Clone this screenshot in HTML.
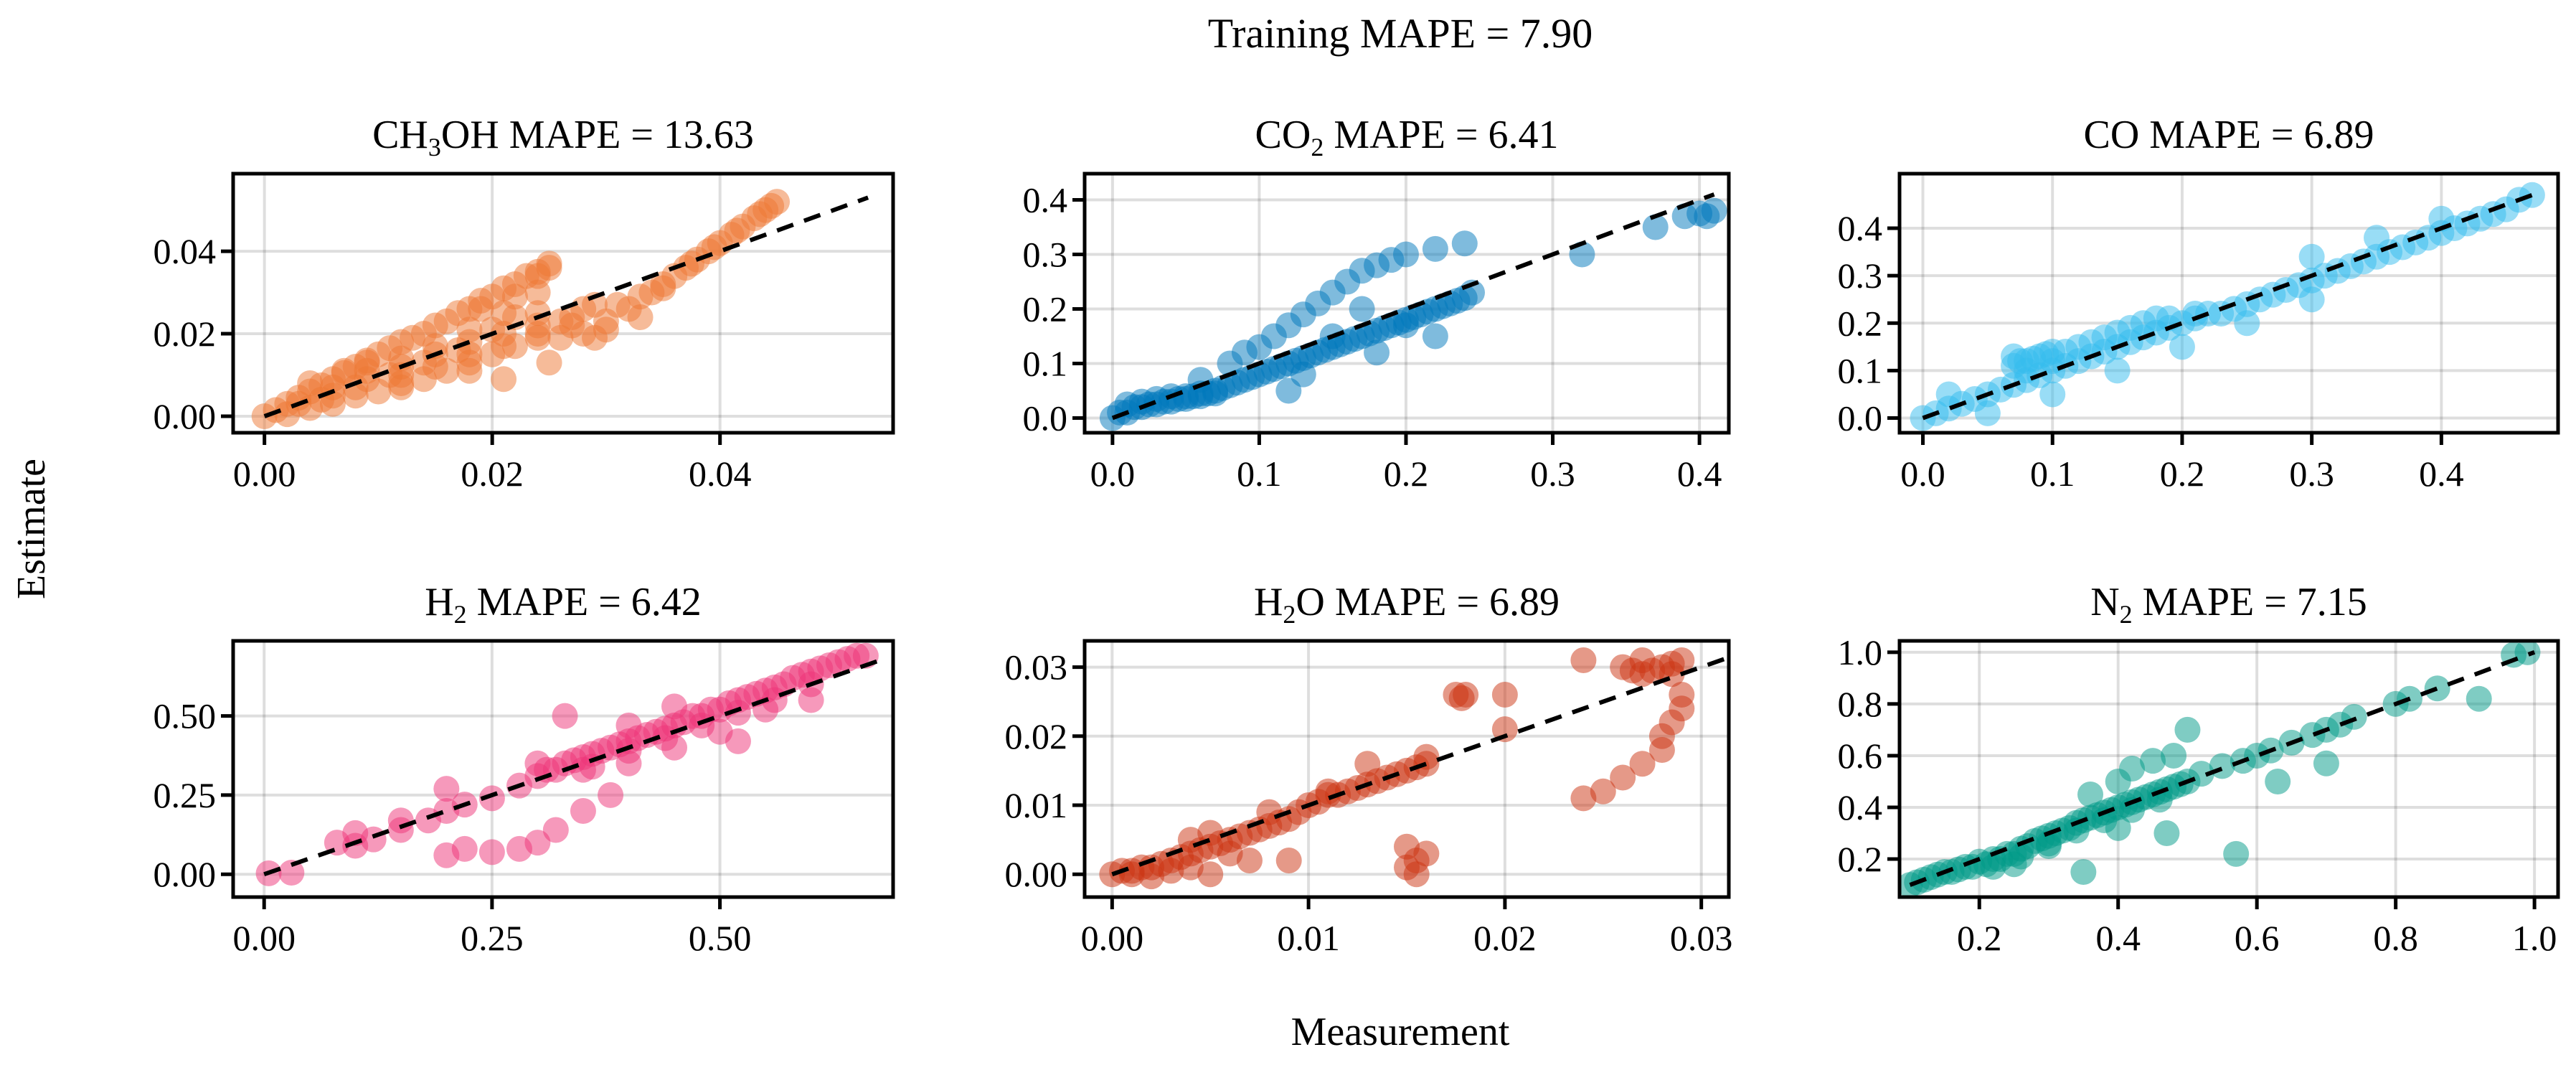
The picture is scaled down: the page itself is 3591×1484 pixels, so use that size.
<!DOCTYPE html>
<html><head><meta charset="utf-8"><style>
html,body{margin:0;padding:0;background:#fff}
svg{display:block}
text{font-family:"Liberation Serif","DejaVu Serif",serif;fill:#000}
</style></head><body>
<svg id="fig" width="3591" height="1484" viewBox="0 0 3591 1484" xmlns="http://www.w3.org/2000/svg">
<rect width="3591" height="1484" fill="#fff"/>
<text x="1952" y="66" font-size="58" text-anchor="middle">Training MAPE = 7.90</text>
<text x="0" y="0" font-size="56" text-anchor="middle" transform="translate(62,737) rotate(-90)">Estimate</text>
<text x="1952" y="1456" font-size="56" text-anchor="middle">Measurement</text>
</svg>
<script>
// ---- data ----
const ch3ohX=[0,0.001,0.002,0.003,0.004,0.005,0.006,0.007,0.008,0.009,0.010,0.011,0.012,0.013,0.014,0.015,0.016,0.017,0.018,0.019,0.020,0.021,0.022,0.023,0.024,0.025,0.002,0.004,0.006,0.008,0.010,0.012,0.014,0.016,0.018,0.020,0.022,0.024,0.026,0.028,0.030,0.029,0.005,0.008,0.011,0.014,0.017,0.020,0.022,0.024,0.026,0.028,0.031,0.033,0.035,0.036,0.037,0.038,0.039,0.040,0.041,0.042,0.043,0.044,0.045,0.021,0.018,0.012,0.025,0.004,0.007,0.009,0.033,
 0.003,0.006,0.009,0.012,0.015,0.018,0.021,0.024,0.027,0.006,0.009,0.012,0.015,0.018,0.021,0.024,0.019,0.022,0.012,0.015,0.018,0.021,0.024,0.027,0.030,0.029,0.032,0.034,0.035,0.025,0.024,0.0415,0.0435,0.0445,0.0395,0.0375];
const ch3ohY=[0,0.0015,0.003,0.0045,0.006,0.0075,0.009,0.0105,0.012,0.0135,0.015,0.0165,0.018,0.019,0.020,0.022,0.023,0.025,0.026,0.028,0.029,0.031,0.032,0.034,0.035,0.037,0.0005,0.002,0.003,0.005,0.006,0.008,0.009,0.011,0.013,0.015,0.017,0.019,0.019,0.020,0.021,0.027,0.004,0.007,0.010,0.013,0.016,0.021,0.024,0.025,0.023,0.026,0.027,0.029,0.032,0.034,0.036,0.038,0.040,0.042,0.044,0.046,0.048,0.050,0.052,0.009,0.011,0.007,0.013,0.008,0.011,0.013,0.024,
 0.003,0.005,0.009,0.012,0.015,0.018,0.020,0.022,0.024,0.007,0.011,0.014,0.017,0.021,0.025,0.030,0.026,0.029,0.010,0.012,0.015,0.017,0.020,0.022,0.023,0.019,0.026,0.030,0.031,0.036,0.034,0.045,0.049,0.051,0.041,0.037];
const co2X=[0,0.01,0.02,0.03,0.04,0.05,0.06,0.07,0.08,0.09,0.10,0.11,0.12,0.13,0.14,0.15,0.16,0.17,0.18,0.19,0.20,0.21,0.22,0.23,0.24,0.245,0.02,0.05,0.07,0.09,0.10,0.11,0.12,0.13,0.14,0.15,0.16,0.17,0.18,0.19,0.20,0.22,0.24,0.08,0.12,0.13,0.15,0.17,0.18,0.20,0.22,0.32,0.37,0.39,0.40,0.41,0.405,0.06,
 0.005,0.015,0.025,0.035,0.045,0.055,0.065,0.075,0.085,0.095,0.105,0.115,0.125,0.135,0.145,0.155,0.165,0.175,0.185,0.195,0.205,0.215,0.225,0.235,0.01,0.03,0.04,0.06];
const co2Y=[0,0.01,0.02,0.025,0.03,0.035,0.04,0.05,0.06,0.07,0.08,0.09,0.10,0.11,0.12,0.13,0.14,0.15,0.16,0.17,0.18,0.19,0.20,0.21,0.22,0.23,0.03,0.04,0.045,0.12,0.13,0.15,0.17,0.19,0.21,0.23,0.25,0.27,0.28,0.29,0.30,0.31,0.32,0.10,0.05,0.08,0.15,0.20,0.12,0.17,0.15,0.30,0.35,0.37,0.375,0.38,0.37,0.07,
 0.01,0.02,0.025,0.03,0.035,0.04,0.045,0.055,0.065,0.075,0.085,0.095,0.105,0.115,0.125,0.135,0.145,0.155,0.165,0.175,0.185,0.195,0.205,0.215,0.025,0.035,0.04,0.045];
const coX=[0,0.02,0.04,0.06,0.08,0.1,0.12,0.14,0.16,0.18,0.2,0.22,0.24,0.26,0.28,0.3,0.32,0.34,0.36,0.38,0.40,0.42,0.44,0.46,0.47,0.07,0.08,0.09,0.07,0.1,0.08,0.1,0.12,0.14,0.16,0.18,0.05,0.1,0.15,0.2,0.3,0.35,0.25,0.4,0.02,0.3,
 0.01,0.03,0.05,0.07,0.09,0.11,0.13,0.15,0.17,0.19,0.21,0.23,0.25,0.27,0.29,0.31,0.33,0.35,0.37,0.39,0.41,0.43,0.45,0.075,0.085,0.095,0.11,0.13,0.15,0.17,0.19,0.21];
const coY=[0,0.02,0.04,0.06,0.08,0.1,0.12,0.14,0.16,0.18,0.2,0.22,0.23,0.25,0.27,0.29,0.31,0.33,0.35,0.37,0.39,0.41,0.43,0.46,0.47,0.11,0.12,0.13,0.13,0.14,0.10,0.12,0.15,0.17,0.19,0.21,0.01,0.05,0.10,0.15,0.34,0.38,0.20,0.42,0.05,0.25,
 0.01,0.03,0.05,0.07,0.09,0.11,0.13,0.15,0.17,0.19,0.21,0.22,0.24,0.26,0.28,0.30,0.32,0.34,0.36,0.38,0.40,0.42,0.44,0.12,0.125,0.135,0.14,0.16,0.18,0.20,0.21,0.22];
const h2X=[0.005,0.03,0.08,0.1,0.12,0.15,0.18,0.2,0.22,0.25,0.28,0.3,0.32,0.34,0.36,0.38,0.4,0.42,0.44,0.46,0.48,0.5,0.52,0.54,0.56,0.58,0.6,0.62,0.64,0.66,0.2,0.22,0.25,0.28,0.3,0.32,0.35,0.38,0.33,0.35,0.4,0.45,0.5,0.55,0.6,0.52,0.3,0.4,0.45,0.2,0.15,0.1,
 0.31,0.33,0.35,0.37,0.39,0.41,0.43,0.45,0.47,0.49,0.51,0.53,0.55,0.57,0.59,0.61,0.63,0.65,0.36,0.4,0.44,0.48,0.52,0.56,0.6];
const h2Y=[0.003,0.005,0.1,0.09,0.11,0.14,0.17,0.2,0.22,0.24,0.28,0.31,0.33,0.36,0.38,0.40,0.42,0.44,0.46,0.48,0.50,0.52,0.55,0.57,0.59,0.62,0.64,0.66,0.68,0.69,0.06,0.08,0.07,0.08,0.1,0.14,0.2,0.25,0.5,0.33,0.35,0.4,0.45,0.52,0.55,0.42,0.35,0.47,0.53,0.27,0.17,0.13,
 0.33,0.35,0.37,0.39,0.41,0.43,0.45,0.47,0.50,0.52,0.54,0.56,0.58,0.60,0.63,0.65,0.67,0.69,0.34,0.39,0.43,0.47,0.51,0.55,0.60];
const h2oX=[0,0.001,0.002,0.003,0.004,0.005,0.006,0.007,0.008,0.009,0.010,0.011,0.012,0.013,0.014,0.015,0.016,0.016,0.0175,0.018,0.001,0.002,0.003,0.004,0.005,0.006,0.004,0.015,0.0155,0.016,0.015,0.0155,0.026,0.027,0.028,0.029,0.0285,0.027,0.024,0.029,0.029,0.0285,0.028,0.028,0.027,0.026,0.025,0.024,0.008,0.011,0.013,0.02,0.02,0.009,0.005,0.007,
 0.0005,0.0015,0.0025,0.0035,0.0045,0.0055,0.0065,0.0075,0.0085,0.0095,0.0105,0.0115,0.0125,0.0135,0.0145,0.0155,0.0265,0.0275,0.0285,0.0178];
const h2oY=[0,0.0005,0.001,0.002,0.003,0.004,0.005,0.006,0.007,0.008,0.010,0.0115,0.012,0.013,0.014,0.015,0.016,0.017,0.026,0.026,0,-0.0003,0.0005,0.001,0,0.003,0.005,0.001,0.002,0.003,0.004,0,0.03,0.029,0.03,0.031,0.029,0.031,0.031,0.026,0.024,0.022,0.02,0.018,0.016,0.014,0.012,0.011,0.009,0.012,0.016,0.026,0.021,0.002,0.006,0.002,
 0.0005,0.001,0.0015,0.0025,0.0035,0.0045,0.0055,0.0065,0.0075,0.009,0.0105,0.0115,0.0125,0.0135,0.0145,0.0155,0.0295,0.0295,0.0305,0.0255];
const n2X=[0.1,0.12,0.14,0.16,0.18,0.2,0.22,0.24,0.26,0.28,0.3,0.32,0.34,0.36,0.38,0.4,0.42,0.44,0.46,0.48,0.5,0.52,0.55,0.58,0.6,0.62,0.65,0.68,0.7,0.72,0.74,0.8,0.82,0.86,0.97,0.99,0.4,0.42,0.45,0.48,0.5,0.36,0.35,0.47,0.57,0.63,0.7,0.92,0.3,0.25,0.4,
 0.11,0.13,0.15,0.17,0.19,0.21,0.23,0.25,0.27,0.29,0.31,0.33,0.35,0.37,0.39,0.41,0.43,0.45,0.47,0.49,0.22,0.26,0.3,0.34,0.38,0.42,0.46];
const n2Y=[0.1,0.12,0.14,0.15,0.17,0.19,0.2,0.22,0.24,0.27,0.29,0.31,0.34,0.36,0.38,0.4,0.42,0.44,0.46,0.48,0.5,0.53,0.56,0.58,0.6,0.62,0.65,0.68,0.7,0.72,0.75,0.8,0.82,0.86,0.99,1.0,0.5,0.55,0.58,0.6,0.7,0.45,0.15,0.3,0.22,0.5,0.57,0.82,0.25,0.18,0.32,
 0.11,0.13,0.15,0.16,0.17,0.18,0.2,0.22,0.25,0.28,0.3,0.32,0.35,0.37,0.39,0.41,0.43,0.45,0.47,0.49,0.17,0.21,0.26,0.31,0.35,0.39,0.43];
const ch3ohTicks=[0,0.02,0.04], ch3ohLabels=["0.00","0.02","0.04"];
const co2Ticks=[0,0.1,0.2,0.3,0.4], co2Labels=["0.0","0.1","0.2","0.3","0.4"];
const coTicks=[0,0.1,0.2,0.3,0.4], coLabels=["0.0","0.1","0.2","0.3","0.4"];
const h2Ticks=[0,0.25,0.5], h2Labels=["0.00","0.25","0.50"];
const h2oTicks=[0,0.01,0.02,0.03], h2oLabels=["0.00","0.01","0.02","0.03"];
const n2Ticks=[0.2,0.4,0.6,0.8,1.0], n2Labels=["0.2","0.4","0.6","0.8","1.0"];

const panels=[
 {name:'ch3oh',main:'CH',sub:'3',rest:'OH MAPE = 13.63',x:ch3ohX,y:ch3ohY,t:ch3ohTicks,l:ch3ohLabels,color:'#EE7733',box:[325,242,1245,603],xd:[-0.00275,0.0552],yd:[-0.004,0.0588],line:[0,0.053]},
 {name:'co2',main:'CO',sub:'2',rest:' MAPE = 6.41',x:co2X,y:co2Y,t:co2Ticks,l:co2Labels,color:'#0077BB',box:[1512,242,2410,603],xd:[-0.019,0.42],yd:[-0.027,0.448],line:[0,0.41]},
 {name:'co',main:'CO MAPE = 6.89',sub:'',rest:'',x:coX,y:coY,t:coTicks,l:coLabels,color:'#33BBEE',box:[2648,242,3566,603],xd:[-0.018,0.49],yd:[-0.031,0.515],line:[0,0.47]},
 {name:'h2',main:'H',sub:'2',rest:' MAPE = 6.42',x:h2X,y:h2Y,t:h2Ticks,l:h2Labels,color:'#EE3377',box:[325,893,1245,1250],xd:[-0.034,0.69],yd:[-0.072,0.737],line:[0,0.68]},
 {name:'h2o',main:'H',sub:'2',rest:'O MAPE = 6.89',x:h2oX,y:h2oY,t:h2oTicks,l:h2oLabels,color:'#CC3311',box:[1512,893,2410,1250],xd:[-0.0014,0.0314],yd:[-0.0033,0.0338],line:[0,0.0325]},
 {name:'n2',main:'N',sub:'2',rest:' MAPE = 7.15',x:n2X,y:n2Y,t:n2Ticks,l:n2Labels,color:'#009988',box:[2648,893,3566,1250],xd:[0.085,1.034],yd:[0.053,1.044],line:[0.1,1.0]}
];
const NS='http://www.w3.org/2000/svg';
const svg=document.getElementById('fig');
function mk(tag,attrs,parent){const e=document.createElementNS(NS,tag);for(const k in attrs)e.setAttribute(k,attrs[k]);(parent||svg).appendChild(e);return e;}
panels.forEach(p=>{
 const [L,T,R,B]=p.box;
 const sx=v=>L+(v-p.xd[0])/(p.xd[1]-p.xd[0])*(R-L);
 const sy=v=>B-(v-p.yd[0])/(p.yd[1]-p.yd[0])*(B-T);
 const g=mk('g',{});
 
 
 const cid='clip-'+p.name;
 const cp=mk('clipPath',{id:cid},g);mk('rect',{x:L,y:T,width:R-L,height:B-T},cp);
 p.t.forEach((v,i)=>{
  const gx=mk('line',{x1:sx(v),x2:sx(v),y1:T,y2:B,stroke:'#000','stroke-opacity':0.13,'stroke-width':4},g);
  
  
  const gy=mk('line',{x1:L,x2:R,y1:sy(v),y2:sy(v),stroke:'#000','stroke-opacity':0.13,'stroke-width':4},g);
  
  
  mk('line',{x1:sx(v),x2:sx(v),y1:B,y2:B+17,stroke:'#000','stroke-width':5},g);
  mk('line',{x1:L-17,x2:L,y1:sy(v),y2:sy(v),stroke:'#000','stroke-width':5},g);
  const xt=mk('text',{x:sx(v),y:B+74,'font-size':50,'text-anchor':'middle'},g);xt.textContent=p.l[i];
  
  
  const yt=mk('text',{x:L-24,y:sy(v)+17,'font-size':50,'text-anchor':'end'},g);yt.textContent=p.l[i];
  
  
 });
 const pts=mk('g',{'clip-path':'url(#'+cid+')'},g);
 p.x.forEach((xv,i)=>{
  const c=mk('circle',{cx:sx(xv),cy:sy(p.y[i]),r:18,fill:p.color,'fill-opacity':0.5},pts);
  
  
 });
 const dl=mk('line',{x1:sx(p.line[0]),y1:sy(p.line[0]),x2:sx(p.line[1]),y2:sy(p.line[1]),stroke:'#000','stroke-width':6,'stroke-dasharray':'24 16','clip-path':'url(#'+cid+')'},g);
 
 
 const fr=mk('rect',{x:L,y:T,width:R-L,height:B-T,fill:'none',stroke:'#000','stroke-width':5},g);
 
 
 const tt=mk('text',{x:(L+R)/2,y:T-36,'font-size':56,'text-anchor':'middle'},g);
 
 
 const a=mk('tspan',{},tt);a.textContent=p.main;
 if(p.sub){const s=mk('tspan',{'font-size':36,dy:11},tt);s.textContent=p.sub;
  const r=mk('tspan',{dy:-11},tt);r.textContent=p.rest;}
});
</script>
</body></html>
